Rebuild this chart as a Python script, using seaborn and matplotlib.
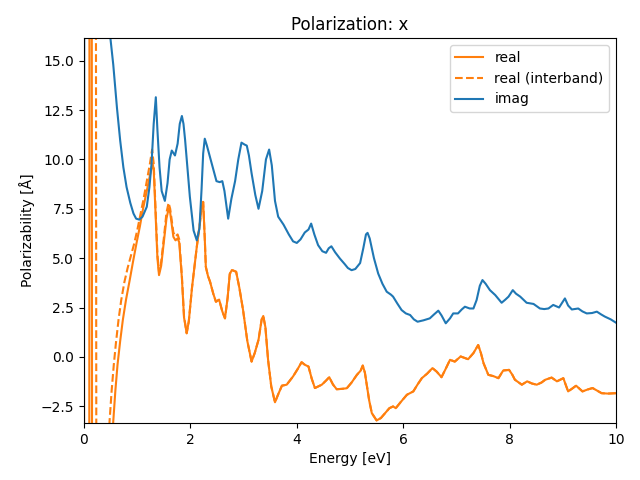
import matplotlib
matplotlib.use("Agg")
import matplotlib.pyplot as plt
import seaborn as sns
import numpy as np

# ---- data ----
imag_x = [0.0, 0.02, 0.49, 0.55, 0.62, 0.68, 0.74, 0.80, 0.87, 0.93, 0.98, 1.04, 1.10, 1.18,
          1.23, 1.27, 1.31, 1.35, 1.38, 1.42, 1.46, 1.52, 1.57, 1.61, 1.65, 1.71, 1.76, 1.80,
          1.84, 1.87, 1.90, 1.95, 1.99, 2.06, 2.12, 2.17, 2.21, 2.24, 2.27, 2.31, 2.37, 2.43,
          2.49, 2.55, 2.60, 2.64, 2.71, 2.77, 2.84, 2.90, 2.96, 3.02, 3.06, 3.10, 3.15, 3.22,
          3.28, 3.35, 3.42, 3.48, 3.53, 3.59, 3.65, 3.75, 3.85, 3.93, 4.00, 4.07, 4.15, 4.22,
          4.27, 4.33, 4.40, 4.48, 4.55, 4.60, 4.65, 4.72, 4.81, 4.90, 4.96, 5.03, 5.10, 5.19,
          5.25, 5.30, 5.33, 5.37, 5.45, 5.53, 5.61, 5.69, 5.77, 5.81, 5.89, 5.97, 6.05, 6.13,
          6.20, 6.27, 6.38, 6.50, 6.58, 6.66, 6.72, 6.80, 6.88, 6.94, 7.03, 7.10, 7.16, 7.25,
          7.32, 7.38, 7.44, 7.49, 7.55, 7.63, 7.73, 7.85, 7.92, 7.98, 8.06, 8.12, 8.20, 8.32,
          8.45, 8.57, 8.65, 8.73, 8.82, 8.93, 8.99, 9.04, 9.10, 9.17, 9.29, 9.37, 9.45, 9.55,
          9.64, 9.72, 9.79, 9.90, 10.0]
imag_y = [0.0, 80.0, 16.3, 14.8, 12.6, 10.96, 9.6, 8.6, 7.8, 7.26, 7.0, 6.95, 7.1, 7.6,
          8.6, 9.8, 11.8, 13.15, 11.5, 9.6, 8.4, 7.9, 8.8, 10.0, 10.45, 10.2, 10.8, 11.8,
          12.2, 11.8, 11.0, 9.4, 8.1, 6.4, 5.9, 6.5, 8.5, 10.3, 11.05, 10.7, 10.1, 9.5,
          8.9, 8.85, 8.9, 8.4, 7.0, 8.0, 8.9, 10.0, 10.85, 10.75, 10.7, 10.2, 9.3, 8.2,
          7.5, 8.4, 10.0, 10.5, 9.7, 7.9, 7.1, 6.7, 6.2, 5.85, 5.77, 5.95, 6.3, 6.45,
          6.75, 6.2, 5.66, 5.35, 5.27, 5.5, 5.6, 5.3, 4.98, 4.7, 4.5, 4.39, 4.45, 4.75,
          5.5, 6.2, 6.28, 6.0, 5.0, 4.22, 3.7, 3.3, 3.15, 3.05, 2.7, 2.37, 2.2, 2.12,
          1.9, 1.78, 1.85, 1.95, 2.15, 2.34, 2.1, 1.70, 1.95, 2.2, 2.2, 2.4, 2.54, 2.45,
          2.45, 2.88, 3.6, 3.89, 3.7, 3.38, 3.13, 2.74, 2.9, 3.05, 3.38, 3.2, 3.05, 2.74,
          2.68, 2.45, 2.42, 2.45, 2.63, 2.5, 2.75, 2.96, 2.6, 2.4, 2.45, 2.3, 2.2, 2.22,
          2.29, 2.15, 2.04, 1.9, 1.73]

real_low_x = [0.0, 0.08, 0.12, 0.18, 0.30, 0.45, 0.55, 0.59, 0.63, 0.68, 0.73, 0.79, 0.86,
              0.92, 0.99, 1.05, 1.11, 1.18, 1.24, 1.29, 1.31, 1.35, 1.38, 1.41, 1.45, 1.50,
              1.55, 1.59, 1.62, 1.68, 1.72, 1.76, 1.79, 1.84, 1.88, 1.93, 1.97]
real_low_y = [0.0, -150.0, 150.0, -150.0, -30.0, -8.0, -3.27, -1.7, -0.4, 0.8, 1.87, 2.9, 3.9,
              4.8, 5.8, 6.6, 7.5, 8.4, 9.2, 9.8, 9.5, 7.0, 5.0, 4.14, 4.6, 5.8,
              7.0, 7.5, 7.3, 6.08, 5.9, 6.0, 5.8, 4.0, 2.0, 1.19, 1.8]

inter_low_x = [0.0, 0.20, 0.26, 0.38, 0.48, 0.52, 0.56, 0.60, 0.65, 0.70, 0.76, 0.82, 0.88,
               0.94, 1.00, 1.06, 1.12, 1.18, 1.24, 1.28, 1.31, 1.35, 1.38, 1.41, 1.45, 1.50,
               1.55, 1.59, 1.62, 1.68, 1.72, 1.76, 1.79, 1.84, 1.88, 1.93, 1.97]
inter_low_y = [300.0, 100.0, -100.0, -15.0, -3.27, -1.7, -0.4, 0.7, 1.9, 2.88, 3.8, 4.5, 5.1,
               5.7, 6.4, 7.2, 8.0, 8.9, 9.8, 10.5, 9.8, 7.2, 5.2, 4.3, 4.8, 6.0,
               7.3, 7.8, 7.5, 6.3, 6.1, 6.2, 5.95, 4.1, 2.05, 1.2, 1.8]

# above ~2 eV the interband part coincides with the full real part
real_high_x = [2.03, 2.12, 2.18, 2.21, 2.24, 2.27, 2.29, 2.33, 2.37, 2.43, 2.48, 2.54, 2.60,
               2.65, 2.70, 2.74, 2.78, 2.86, 2.92, 2.99, 3.07, 3.15, 3.21, 3.28, 3.34, 3.37,
               3.41, 3.46, 3.52, 3.59, 3.65, 3.72, 3.81, 3.93, 4.02, 4.09, 4.15, 4.22, 4.28,
               4.34, 4.40, 4.47, 4.55, 4.61, 4.68, 4.75, 4.85, 4.94, 5.03, 5.13, 5.20, 5.24,
               5.28, 5.31, 5.36, 5.41, 5.50, 5.58, 5.66, 5.74, 5.81, 5.86, 5.95, 6.07, 6.19,
               6.27, 6.35, 6.45, 6.55, 6.63, 6.72, 6.80, 6.88, 6.97, 7.08, 7.15, 7.22, 7.32,
               7.41, 7.46, 7.51, 7.60, 7.70, 7.79, 7.88, 7.99, 8.05, 8.10, 8.23, 8.33, 8.42,
               8.51, 8.60, 8.67, 8.79, 8.89, 9.01, 9.10, 9.18, 9.25, 9.37, 9.47, 9.56, 9.65,
               9.73, 9.85, 10.0]
real_high_y = [3.5, 5.57, 6.8, 7.6, 7.85, 6.0, 4.56, 4.1, 3.8, 3.2, 2.79, 2.9, 2.3,
               1.95, 3.0, 4.2, 4.4, 4.31, 3.5, 2.37, 0.8, -0.24, 0.2, 0.86, 1.9, 2.07,
               1.5, -0.15, -1.5, -2.3, -1.9, -1.46, -1.41, -0.99, -0.6, -0.27, -0.4, -0.49, -1.1,
               -1.58, -1.5, -1.41, -1.2, -1.03, -1.4, -1.64, -1.62, -1.59, -1.3, -0.91, -0.7, -0.44,
               -0.8, -1.33, -2.2, -2.85, -3.22, -3.1, -2.85, -2.6, -2.51, -2.6, -2.3, -1.92, -1.75,
               -1.4, -1.08, -0.85, -0.57, -0.75, -1.03, -0.6, -0.15, -0.24, 0.02, -0.05, -0.12, 0.19,
               0.6, 0.2, -0.32, -0.91, -0.98, -1.08, -0.69, -0.66, -0.9, -1.16, -1.41, -1.24, -1.35,
               -1.41, -1.3, -1.16, -1.05, -1.24, -1.08, -1.75, -1.6, -1.46, -1.75, -1.65, -1.58, -1.72,
               -1.84, -1.86, -1.84]

real_x = real_low_x + real_high_x
real_y = real_low_y + real_high_y
inter_x = inter_low_x + real_high_x
inter_y = inter_low_y + real_high_y

fig, ax = plt.subplots(figsize=(6.4, 4.8), dpi=100)
sns.lineplot(x=real_x, y=real_y, ax=ax, color="C1", label="real", estimator=None)
sns.lineplot(x=inter_x, y=inter_y, ax=ax, color="C1", linestyle="--",
             label="real (interband)", estimator=None)
sns.lineplot(x=imag_x, y=imag_y, ax=ax, color="C0", label="imag", estimator=None)

ax.set_xlim(0, 10)
ax.set_ylim(-3.35, 16.15)
ax.set_title("Polarization: x")
ax.set_xlabel("Energy [eV]")
ax.set_ylabel("Polarizability [Å]")
ax.legend(loc="upper right")
fig.subplots_adjust(left=84 / 640, right=616 / 640, top=1 - 38 / 480, bottom=1 - 423 / 480)
fig.savefig("out.png", dpi=100)
